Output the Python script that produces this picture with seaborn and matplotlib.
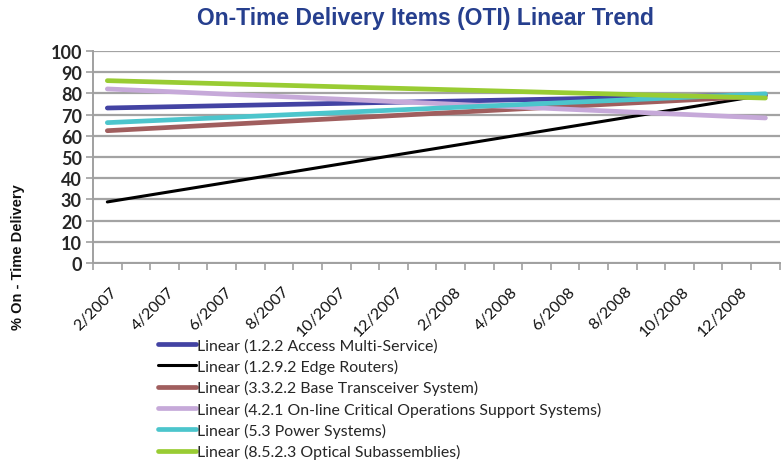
import numpy as np
import pandas as pd
import matplotlib
matplotlib.use("Agg")
import matplotlib.pyplot as plt
import matplotlib.transforms as mtransforms
import seaborn as sns

# months on the category axis (2/2007 .. 1/2009)
months = ['2/2007', '3/2007', '4/2007', '5/2007', '6/2007', '7/2007', '8/2007',
          '9/2007', '10/2007', '11/2007', '12/2007', '1/2008', '2/2008', '3/2008',
          '4/2008', '5/2008', '6/2008', '7/2008', '8/2008', '9/2008', '10/2008',
          '11/2008', '12/2008', '1/2009']

series = ['Linear (1.2.2 Access Multi-Service)',
          'Linear (1.2.9.2 Edge Routers)',
          'Linear (3.3.2.2 Base Transceiver System)',
          'Linear (4.2.1 On-line Critical Operations Support Systems)',
          'Linear (5.3 Power Systems)',
          'Linear (8.5.2.3 Optical Subassemblies)']
# linear trend values at first and last month
start_vals = [73.1, 28.8, 62.4, 82.1, 66.2, 86.0]
end_vals = [79.3, 79.3, 78.8, 68.4, 79.8, 77.8]

colors = ['#4343a3', '#000000', '#a05e5e', '#c6a9d9', '#4cc5cc', '#99cc33']
widths = [3.4, 2.2, 3.4, 3.4, 3.4, 3.4]

rows = []
for name, s, e in zip(series, start_vals, end_vals):
    rows.append({'series': name, 'month': months[0], 'value': s})
    rows.append({'series': name, 'month': months[-1], 'value': e})
df = pd.DataFrame(rows)
df['pos'] = df['month'].map({m: i for i, m in enumerate(months)})

sns.set_theme(style="white")
plt.rcParams['font.family'] = ['Lato', 'DejaVu Sans']

fig = plt.figure(figsize=(7.83, 4.64), dpi=100)
ax = fig.add_axes([0.1188, 0.431, 0.877, 0.457])

for name, c, w in zip(series, colors, widths):
    d = df[df['series'] == name]
    sns.lineplot(data=d, x='pos', y='value', color=c, linewidth=w,
                 label=name, ax=ax, solid_capstyle='round')

ax.set_ylim(0, 100)
ax.set_xlim(-0.5, len(months) - 0.5)
ax.set_yticks(np.arange(0, 101, 10))
ax.yaxis.grid(True, color='#a3a3a3', linewidth=1.6)
ax.set_axisbelow(True)

# category boundaries get the tick marks, every 2nd month gets a label
ax.set_xticks(np.arange(-0.5, len(months), 1.0))
ax.set_xticklabels([])
ax.tick_params(axis='x', which='major', direction='out', length=5, width=1.2,
               color='#a0a0a0', bottom=True)
ax.tick_params(axis='y', direction='out', length=5, width=1.2, color='#a0a0a0',
               left=True, labelsize=13, pad=3)
for lab in ax.get_yticklabels():
    lab.set_fontweight('bold')

offset = mtransforms.ScaledTranslation(2 / 72, -15 / 72, fig.dpi_scale_trans)
for i in range(0, len(months), 2):
    ax.text(i, 0, months[i], rotation=45, ha='right', va='top',
            rotation_mode='anchor', fontsize=11.5, color='#111111',
            transform=ax.get_xaxis_transform() + offset)

for side in ['top', 'right']:
    ax.spines[side].set_visible(False)
for side in ['left', 'bottom']:
    ax.spines[side].set_color('#a0a0a0')
    ax.spines[side].set_linewidth(1.4)

ax.set_xlabel('')
ax.set_ylabel('')

fig.text(0.543, 0.961, 'On-Time Delivery Items (OTI) Linear Trend',
         ha='center', va='center', fontsize=16.5, fontweight='bold',
         color='#263f8e', family=['Liberation Sans Narrow', 'Liberation Sans'])
fig.text(0.023, 0.446, '% On - Time Delivery', rotation=90, ha='center',
         va='center', fontsize=10.5, fontweight='bold', color='#111111',
         family=['Liberation Sans'])

ax.get_legend().remove()
handles, labels = ax.get_legend_handles_labels()
fig.legend(handles, labels, loc='upper left',
           bbox_to_anchor=(158 / 783, 1 - 339 / 464), frameon=False,
           fontsize=11.4, handlelength=2.4, handletextpad=0.05,
           labelspacing=0.4, borderpad=0, borderaxespad=0)

fig.savefig('out.png', dpi=100)
